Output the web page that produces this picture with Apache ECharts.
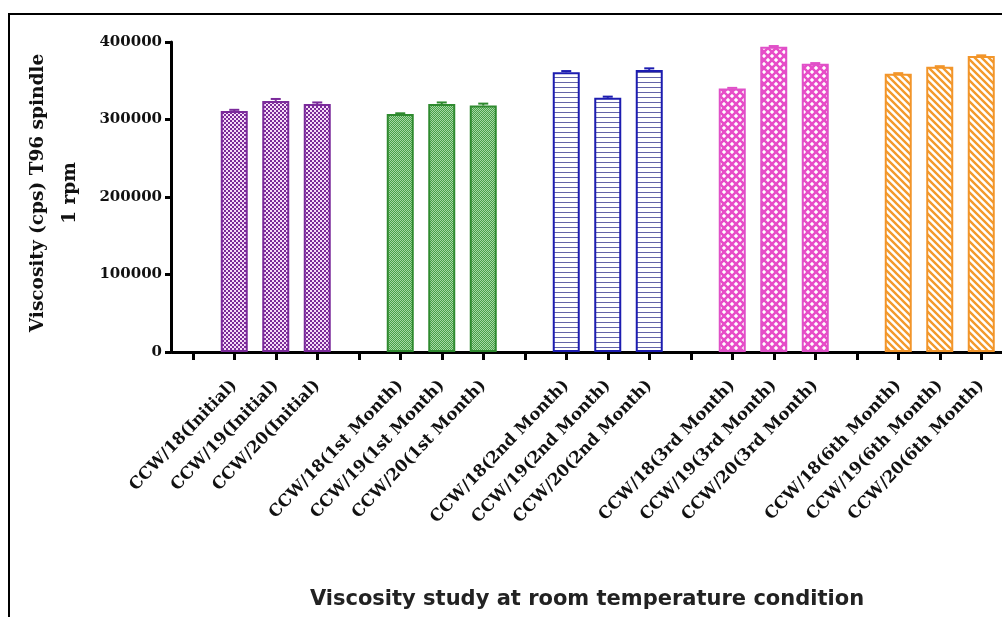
<!DOCTYPE html>
<html>
<head>
<meta charset="utf-8">
<script src="https://cdn.jsdelivr.net/npm/echarts@6/dist/echarts.min.js"></script>
<style>
  html, body { margin: 0; padding: 0; background: #fff; }
  #chart { width: 1002px; height: 617px; }
</style>
</head>
<body>
<div id="chart"></div>
<script>
// Sample labels along the x axis; blank entries are spacer slots between time points
const categories = [
  '',
  'CCW/18(Initial)', 'CCW/19(Initial)', 'CCW/20(Initial)',
  ' ',
  'CCW/18(1st Month)', 'CCW/19(1st Month)', 'CCW/20(1st Month)',
  '  ',
  'CCW/18(2nd Month)', 'CCW/19(2nd Month)', 'CCW/20(2nd Month)',
  '   ',
  'CCW/18(3rd Month)', 'CCW/19(3rd Month)', 'CCW/20(3rd Month)',
  '    ',
  'CCW/18(6th Month)', 'CCW/19(6th Month)', 'CCW/20(6th Month)'
];

// Mean viscosity (cps), T96 spindle at 1 rpm
const initialValues = [311000, 324000, 320000];
const month1Values  = [307000, 320000, 318000];
const month2Values  = [361000, 328000, 364000];
const month3Values  = [340000, 394000, 372000];
const month6Values  = [359000, 368000, 382000];

// Standard deviations
const initialErr = [1500, 2500, 2000];
const month1Err  = [1000, 2000, 2500];
const month2Err  = [1500, 1500, 2000];
const month3Err  = [800, 800, 800];
const month6Err  = [800, 800, 800];

const yTicks = [0, 100000, 200000, 300000, 400000];

// ---- fill patterns ----
function makeTile(w, h, draw) {
  const c = document.createElement('canvas');
  c.width = w; c.height = h;
  draw(c.getContext('2d'), w, h);
  return c;
}
const checkerPurple = makeTile(4, 4, (g) => {
  g.fillStyle = '#7a2b98'; g.fillRect(0, 0, 4, 4);
  g.fillStyle = '#f6dcf8'; g.fillRect(0, 0, 2, 2); g.fillRect(2, 2, 2, 2);
});
const meshGreen = makeTile(2, 2, (g) => {
  g.fillStyle = '#48a048'; g.fillRect(0, 0, 2, 2);
  g.fillStyle = '#a6d8a6'; g.fillRect(0, 0, 1, 1); g.fillRect(1, 1, 1, 1);
});
const linesBlue = makeTile(4, 5, (g) => {
  g.fillStyle = '#ffffff'; g.fillRect(0, 0, 4, 5);
  g.fillStyle = '#6464a8'; g.fillRect(0, 2, 4, 1);
});
const crossPink = makeTile(8, 8, (g) => {
  g.fillStyle = '#ffffff'; g.fillRect(0, 0, 8, 8);
  g.strokeStyle = '#e84cc8'; g.lineWidth = 2.6;
  g.beginPath();
  g.moveTo(-1, -1); g.lineTo(9, 9);
  g.moveTo(9, -1); g.lineTo(-1, 9);
  g.stroke();
});
const stripeOrange = makeTile(7, 7, (g) => {
  g.fillStyle = '#ffffff'; g.fillRect(0, 0, 7, 7);
  g.strokeStyle = '#f39a2c'; g.lineWidth = 2.4;
  g.beginPath();
  g.moveTo(-1, -1); g.lineTo(8, 8);
  g.moveTo(-8, -1); g.lineTo(1, 8);
  g.moveTo(6, -1); g.lineTo(15, 8);
  g.stroke();
});

const groups = [
  { name: 'Initial',   start: 1,  values: initialValues, err: initialErr, border: '#7b2a9b', fill: checkerPurple },
  { name: '1st Month', start: 5,  values: month1Values,  err: month1Err,  border: '#2f8a2f', fill: meshGreen },
  { name: '2nd Month', start: 9,  values: month2Values,  err: month2Err,  border: '#1c1cb0', fill: linesBlue },
  { name: '3rd Month', start: 13, values: month3Values,  err: month3Err,  border: '#e050c8', fill: crossPink },
  { name: '6th Month', start: 17, values: month6Values,  err: month6Err,  border: '#f2952a', fill: stripeOrange }
];

const series = [];
groups.forEach((grp) => {
  const data = categories.map(() => null);
  grp.values.forEach((v, k) => { data[grp.start + k] = v; });
  series.push({
    name: grp.name,
    type: 'bar',
    data: data,
    barWidth: 27,
    barGap: '-100%',
    itemStyle: {
      color: { image: grp.fill, repeat: 'repeat' },
      borderColor: grp.border,
      borderWidth: 2
    },
    z: 2
  });
  const errData = grp.values.map((v, k) => [grp.start + k, v, grp.err[k]]);
  series.push({
    name: grp.name + ' SD',
    type: 'custom',
    data: errData,
    clip: false,
    z: 3,
    renderItem: function (params, api) {
      const idx = api.value(0);
      const mean = api.value(1);
      const sd = api.value(2);
      const base = api.coord([idx, mean]);
      const top = api.coord([idx, mean + sd]);
      const half = 5;
      const style = { stroke: grp.border, lineWidth: 2, fill: null };
      return {
        type: 'group',
        children: [
          { type: 'line', shape: { x1: base[0], y1: base[1], x2: top[0], y2: top[1] }, style: style },
          { type: 'line', shape: { x1: top[0] - half, y1: top[1], x2: top[0] + half, y2: top[1] }, style: style }
        ]
      };
    }
  });
});

const chart = echarts.init(document.getElementById('chart'), null, { renderer: 'canvas' });

chart.setOption({
  backgroundColor: '#ffffff',
  animation: false,
  grid: { left: 172, top: 42, width: 833, height: 310, containLabel: false },
  xAxis: {
    type: 'category',
    data: categories,
    axisLine: { lineStyle: { color: '#000', width: 3 } },
    axisTick: { show: true, interval: 0, alignWithLabel: true, length: 8, lineStyle: { color: '#000', width: 3 } },
    axisLabel: {
      interval: 0,
      rotate: 46,
      margin: 31,
      fontFamily: 'DejaVu Serif',
      fontWeight: 'bold',
      fontSize: 16.5,
      color: '#111'
    },
    splitLine: { show: false }
  },
  yAxis: {
    type: 'value',
    min: yTicks[0],
    max: yTicks[yTicks.length - 1],
    interval: yTicks[1] - yTicks[0],
    offset: 1,
    axisLine: { show: true, lineStyle: { color: '#000', width: 3 } },
    axisTick: { show: true, length: 6, lineStyle: { color: '#000', width: 3 } },
    axisLabel: {
      margin: 9,
      formatter: (v) => String(v),
      fontFamily: 'DejaVu Serif',
      fontWeight: 'bold',
      fontSize: 15,
      color: '#111'
    },
    splitLine: { show: false }
  },
  graphic: [
    {
      type: 'polyline',
      shape: { points: [[9, 640], [9, 14], [1020, 14]] },
      style: { stroke: '#000', lineWidth: 2, fill: null },
      silent: true
    },
    {
      type: 'text',
      x: 54,
      y: 193,
      rotation: Math.PI / 2,
      style: {
        text: 'Viscosity (cps) T96 spindle\n1 rpm',
        fontFamily: 'DejaVu Serif',
        fontWeight: 'bold',
        fontSize: 18.5,
        lineHeight: 32,
        align: 'center',
        verticalAlign: 'middle',
        fill: '#111'
      }
    },
    {
      type: 'text',
      x: 587,
      y: 600,
      style: {
        text: 'Viscosity study at room temperature condition',
        fontFamily: 'DejaVu Sans',
        fontWeight: 'bold',
        fontSize: 21,
        align: 'center',
        verticalAlign: 'middle',
        fill: '#222'
      }
    }
  ],
  series: series
});
</script>
</body>
</html>
